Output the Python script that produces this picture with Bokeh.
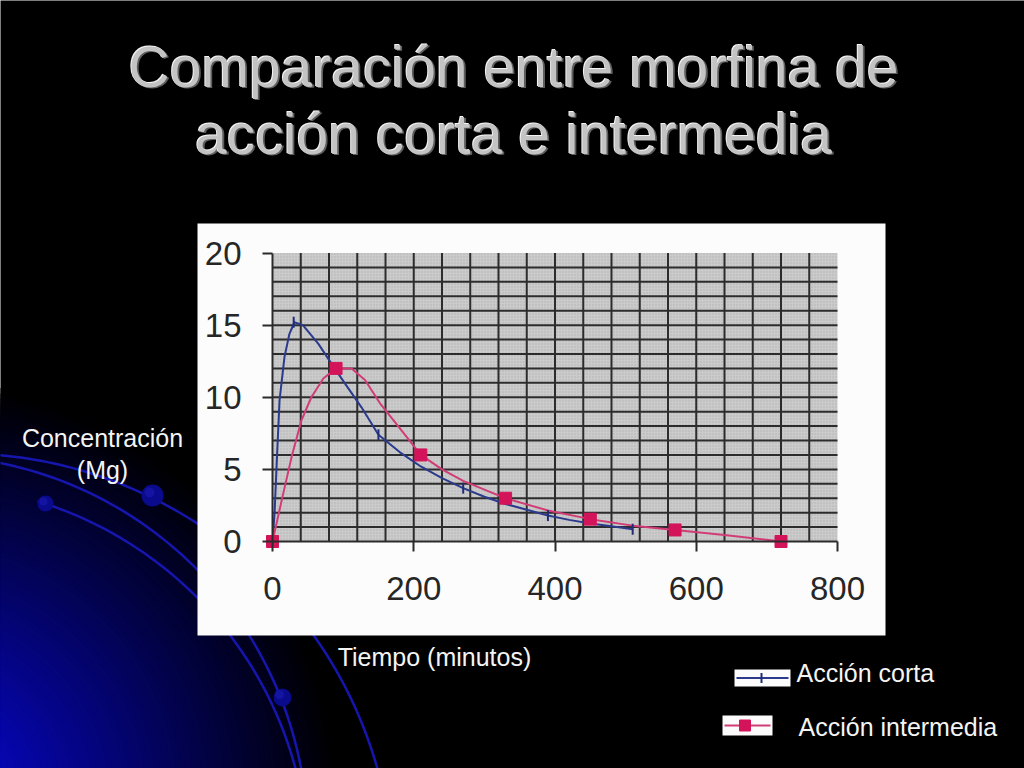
import numpy as np
from bokeh.plotting import figure
from bokeh.models import Range1d, LinearAxis, FixedTicker
from bokeh.core.properties import value
from bokeh.embed import file_html
from bokeh.resources import INLINE

# ---------------- data ----------------
title_lines = ["Comparación entre morfina de", "acción corta e intermedia"]
y_label_lines = ["Concentración", "(Mg)"]
x_label = "Tiempo (minutos)"
series_names = ["Acción corta", "Acción intermedia"]

x_ticks = [0, 200, 400, 600, 800]
y_ticks = [0, 5, 10, 15, 20]

# Acción corta (smoothed curve as traced, and its data markers)
corta_t = [0, 3, 6, 10, 17, 24, 31, 43, 65, 84, 102, 126, 150, 180, 210, 240,
           270, 300, 330, 360, 390, 420, 450, 480, 510]
corta_c = [0, 2.0, 5.5, 9.8, 12.8, 14.4, 15.2, 15.0, 13.7, 12.3, 11.0, 9.3, 7.4,
           6.2, 5.2, 4.4, 3.7, 3.1, 2.6, 2.2, 1.8, 1.5, 1.25, 1.05, 0.85]
corta_pt_t = [0, 30, 150, 270, 390, 510]
corta_pt_c = [0, 15.2, 7.4, 3.7, 1.8, 0.85]

# Acción intermedia
inter_t = [0, 13, 27, 41, 55, 72, 90, 112, 131, 152, 186, 210, 240, 270, 300,
           330, 390, 450, 510, 570, 640, 720]
inter_c = [0, 2.85, 5.85, 8.4, 10.0, 11.3, 12.0, 12.0, 11.2, 9.6, 7.5, 6.0, 5.0,
           4.2, 3.6, 3.0, 2.15, 1.55, 1.1, 0.8, 0.45, 0.0]
inter_pt_t = [0, 90, 210, 330, 450, 570, 720]
inter_pt_c = [0, 12.0, 6.0, 3.0, 1.55, 0.8, 0.0]

# ---------------- styling ----------------
BLUE = "#2b3a8c"
BLUE_MK = "#1f2d78"
PINK_LINE = "#d23c76"
PINK = "#d4145a"
FONT = value("Liberation Sans")

W, H = 1024, 768
p = figure(width=W, height=H, x_range=Range1d(0, W), y_range=Range1d(H, 0),
           min_border=0, toolbar_location=None, output_backend="svg",
           x_axis_type=None, y_axis_type=None,
           background_fill_color="black", border_fill_color="black",
           outline_line_color=None)

# chart scales: x 0 -> px 272, 800 -> px 837 ; y 0 -> px 541, 20 -> px 252.5
pxu = (837 - 272) / 800.0
pyu = (541 - 252.5) / 20.0
p.extra_x_ranges = {"t": Range1d((0 - 272) / pxu, (W - 272) / pxu)}
p.extra_y_ranges = {"c": Range1d(-(H - 541) / pyu, (541 - 0) / pyu)}

# ---------------- background decoration ----------------
gcx, gcy, R = -80, 800, 420
n = 80
radii = np.linspace(R, R / n, n)
cols = []
for r in radii:
    f = max(0.0, 1 - r / R)
    cols.append("#%02x%02x%02x" % (int(8 * f), int(8 * f), int(225 * f)))
p.circle(x=[gcx] * n, y=[gcy] * n, radius=radii, fill_color=cols, line_color=None)


def arc_pts(cx, cy, r, t0, t1):
    t = np.radians(np.linspace(t0, t1, 90))
    return list(cx + r * np.cos(t)), list(cy - r * np.sin(t))


arcs = [arc_pts(-39, 885, 432, 12, 92), arc_pts(-76, 838, 383, 8, 82),
        arc_pts(-75, 867, 383, 12, 73)]
p.multi_line(xs=[a[0] for a in arcs], ys=[a[1] for a in arcs],
             line_color="#1616ae", line_width=2.5)
p.circle(x=[152, 45, 282], y=[495, 503, 697], radius=[11, 8, 9],
         fill_color="#0a0a8c", line_color=None)
p.circle(x=[149, 43, 279], y=[492, 501, 694], radius=[5, 4, 4.5],
         fill_color="#1a1ab0", line_color=None, fill_alpha=0.6)

# white panel behind the chart
p.quad(left=[197], right=[885], top=[223], bottom=[635],
       fill_color="#fcfcfc", line_color=None)

# ---------------- chart ----------------
p.quad(left=[x_ticks[0]], right=[x_ticks[-1]], bottom=[y_ticks[0]], top=[y_ticks[-1]],
       x_range_name="t", y_range_name="c",
       fill_color="#cbcbcb", line_color=None,
       hatch_pattern=".", hatch_color="#8f8f8f", hatch_alpha=0.4, hatch_scale=3)

vx = np.arange(40, 800, 40)
hy = np.arange(1, 20, 1)
p.segment(x0=vx, y0=[0] * len(vx), x1=vx, y1=[20] * len(vx),
          x_range_name="t", y_range_name="c", line_color="#2c2c2c", line_width=2)
p.segment(x0=[0] * len(hy), y0=hy, x1=[800] * len(hy), y1=hy,
          x_range_name="t", y_range_name="c", line_color="#2c2c2c", line_width=2)

axis_kw = dict(x_range_name="t", y_range_name="c", fixed_location=0,
               axis_line_color="#2a2a2a", axis_line_width=2,
               major_tick_line_color="#2a2a2a", major_tick_line_width=2,
               major_tick_in=0, major_tick_out=10, minor_tick_line_color=None,
               major_label_text_font="Liberation Sans",
               major_label_text_font_size="33px",
               major_label_text_color="#262626")
xaxis = LinearAxis(bounds=(x_ticks[0], x_ticks[-1]),
                   ticker=FixedTicker(ticks=x_ticks, minor_ticks=[]),
                   major_label_standoff=25, **axis_kw)
yaxis = LinearAxis(bounds=(y_ticks[0], y_ticks[-1]),
                   ticker=FixedTicker(ticks=y_ticks, minor_ticks=[]),
                   major_label_standoff=21, **axis_kw)
p.add_layout(xaxis, "below")
p.add_layout(yaxis, "left")

p.line(corta_t, corta_c, x_range_name="t", y_range_name="c",
       line_color=BLUE, line_width=2, line_join="round")
p.line(inter_t, inter_c, x_range_name="t", y_range_name="c",
       line_color=PINK_LINE, line_width=2, line_join="round")
p.scatter(corta_pt_t, corta_pt_c, x_range_name="t", y_range_name="c",
          marker="dash", angle=np.pi / 2, size=11, line_color=BLUE_MK, line_width=2)
p.scatter(inter_pt_t, inter_pt_c, x_range_name="t", y_range_name="c",
          marker="square", size=12, fill_color=PINK, line_color=PINK)

# ---------------- texts ----------------
for dx, dy, col in [(1.8, 1.8, "#5e5e5e"), (-1, -1, "#f4f4f4"), (0, 0, "#c3c3c3")]:
    p.text(x=[513, 513], y=[66, 133], text=title_lines, x_offset=dx, y_offset=dy,
           text_font=FONT, text_font_size="57px", text_color=col,
           text_align="center", text_baseline="alphabetic")

p.text(x=[102, 102], y=[437, 469], text=y_label_lines, text_font=FONT,
       text_font_size="25px", text_color="#f4f4f4",
       text_align="center", text_baseline="alphabetic")
p.text(x=[434], y=[656], text=[x_label], text_font=FONT, text_font_size="25px",
       text_color="#f4f4f4", text_align="center", text_baseline="alphabetic")

# ---------------- legend (slide style) ----------------
p.quad(left=[734, 722], right=[790, 772], top=[669, 715], bottom=[686, 735],
       fill_color="#fbfbfb", line_color=None)
p.segment(x0=[736], y0=[677.5], x1=[788], y1=[677.5], line_color=BLUE, line_width=2)
p.segment(x0=[724], y0=[725], x1=[770], y1=[725], line_color=PINK_LINE, line_width=2)
p.scatter(x=[761], y=[677.5], marker="dash", angle=np.pi / 2, size=10,
          line_color=BLUE_MK, line_width=2)
p.scatter(x=[744.5], y=[725], marker="square", size=11, fill_color=PINK, line_color=PINK)
p.text(x=[796, 798], y=[672, 726], text=series_names, text_font=FONT,
       text_font_size="25px", text_color="#f4f4f4",
       text_align="left", text_baseline="alphabetic")

open("out.html", "w").write(file_html(p, INLINE))
